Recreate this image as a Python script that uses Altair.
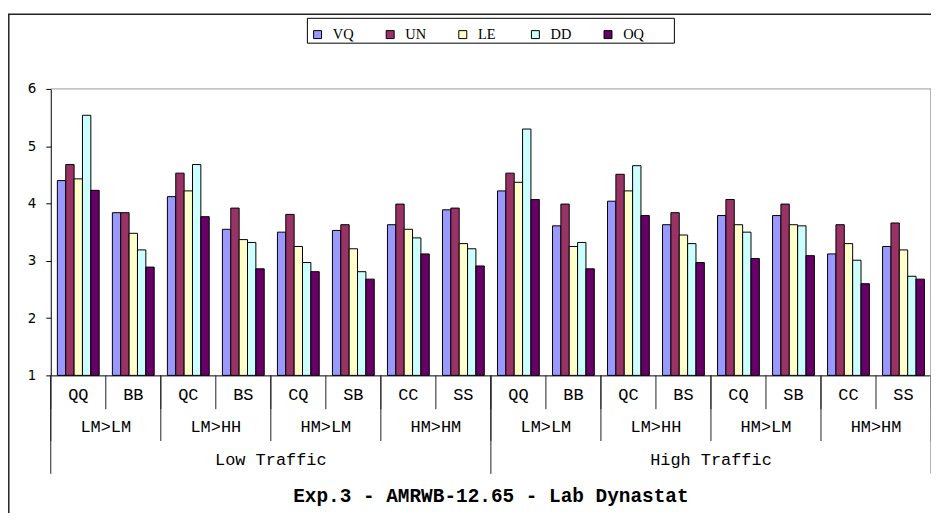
import altair as alt
import pandas as pd

# ---- data ----
codes = ["QQ", "BB", "QC", "BS", "CQ", "SB", "CC", "SS",
         "QQ", "BB", "QC", "BS", "CQ", "SB", "CC", "SS"]
scenarios = ["LM>LM", "LM>HH", "HM>LM", "HM>HM",
             "LM>LM", "LM>HH", "HM>LM", "HM>HM"]
traffic = ["Low Traffic", "High Traffic"]
series = ["VQ", "UN", "LE", "DD", "OQ"]
colors = ["#9999FF", "#993366", "#FFFFCC", "#CCFFFF", "#660066"]

VQ = [4.40, 3.84, 4.12, 3.55, 3.50, 3.53, 3.63, 3.89, 4.22, 3.61, 4.04, 3.63, 3.79, 3.79, 3.12, 3.25]
UN = [4.68, 3.84, 4.53, 3.92, 3.81, 3.63, 3.99, 3.92, 4.53, 3.99, 4.51, 3.84, 4.07, 3.99, 3.63, 3.66]
LE = [4.43, 3.48, 4.22, 3.37, 3.25, 3.21, 3.55, 3.30, 4.37, 3.25, 4.22, 3.45, 3.63, 3.63, 3.30, 3.19]
DD = [5.54, 3.19, 4.68, 3.32, 2.97, 2.81, 3.40, 3.21, 5.30, 3.32, 4.66, 3.30, 3.50, 3.61, 3.01, 2.73]
OQ = [4.23, 2.89, 3.77, 2.86, 2.81, 2.68, 3.12, 2.91, 4.07, 2.86, 3.79, 2.97, 3.04, 3.09, 2.60, 2.68]
y_ticks = [1, 2, 3, 4, 5, 6]
title_text = "Exp.3 - AMRWB-12.65 - Lab Dynastat"

W, H = 885, 288
grp_ids = [f"g{i:02d}" for i in range(len(codes))]

rows = []
for i, g in enumerate(grp_ids):
    for s, vals in zip(series, [VQ, UN, LE, DD, OQ]):
        rows.append({"grp": g, "series": s, "value": vals[i]})
df = pd.DataFrame(rows)

bars = alt.Chart(df).mark_bar(stroke="black", strokeWidth=1).encode(
    x=alt.X("grp:N", sort=grp_ids,
            scale=alt.Scale(paddingInner=0.24, paddingOuter=0.12),
            axis=alt.Axis(labels=False, ticks=False, title=None,
                          domainColor="black", domainWidth=1)),
    xOffset=alt.XOffset("series:N", sort=series,
                        scale=alt.Scale(paddingInner=0, paddingOuter=0)),
    y=alt.Y("value:Q", scale=alt.Scale(domain=[1, 6], nice=False, zero=False),
            axis=alt.Axis(values=y_ticks, title=None, grid=False, tickSize=5,
                          tickColor="black", domainColor="black",
                          labelFont="DejaVu Sans", labelFontSize=13.5,
                          labelColor="black", labelPadding=10)),
    y2=alt.datum(1),
    color=alt.Color("series:N", sort=series,
                    scale=alt.Scale(domain=series, range=colors),
                    legend=alt.Legend(title=None, orient="none", legendX=261, legendY=-62,
                                      direction="horizontal", columns=5, gridAlign="all",
                                      symbolType="square", symbolSize=64,
                                      symbolStrokeColor="black", symbolStrokeWidth=1,
                                      symbolOpacity=1,
                                      labelFont="Liberation Serif", labelFontSize=14.5,
                                      labelFontWeight="normal",
                                      labelColor="black", labelOffset=8,
                                      columnPadding=29, padding=0)),
)

xq = alt.Scale(domain=[0, len(codes)], nice=False, zero=False)

# category labels (three levels)
lvl1 = pd.DataFrame({"pos": [i + 0.5 for i in range(len(codes))], "label": codes})
lvl2 = pd.DataFrame({"pos": [2 * k + 1 for k in range(len(scenarios))], "label": scenarios})
lvl3 = pd.DataFrame({"pos": [4, 12], "label": traffic})

def label_layer(d, ypix):
    return alt.Chart(d).mark_text(font="Liberation Mono", fontSize=17, color="black",
                                  baseline="middle", align="center").encode(
        x=alt.X("pos:Q", scale=xq, axis=None),
        y=alt.value(ypix),
        text="label:N")

def sep_layer(positions, y2pix, color="#222222"):
    return alt.Chart(pd.DataFrame({"pos": positions})).mark_rule(color=color, strokeWidth=1).encode(
        x=alt.X("pos:Q", scale=xq, axis=None),
        y=alt.value(H), y2=alt.value(y2pix))

sep1 = sep_layer(list(range(0, 17)), H + 34)
sep2 = sep_layer(list(range(0, 17, 2)), H + 66)
sep3 = sep_layer([0, 8], H + 99)

one = pd.DataFrame({"k": [0]})
right_border = alt.Chart(one).mark_rule(color="#999999", strokeWidth=1.5).encode(
    x=alt.value(W), y=alt.value(0), y2=alt.value(H + 99))
top_border = alt.Chart(one).mark_rule(color="#999999", strokeWidth=1).encode(
    x=alt.value(0), x2=alt.value(W), y=alt.value(0))
frame_top = alt.Chart(one).mark_rule(color="#222222", strokeWidth=1.5).encode(
    x=alt.value(-43), x2=alt.value(W + 60), y=alt.value(-75))
frame_left = alt.Chart(one).mark_rule(color="#222222", strokeWidth=1.5).encode(
    x=alt.value(-42.2), y=alt.value(-75), y2=alt.value(H + 200))
legend_box = alt.Chart(one).mark_rect(fill="white", stroke="black", strokeWidth=1).encode(
    x=alt.value(258), x2=alt.value(627), y=alt.value(-71), y2=alt.value(-46))
title = alt.Chart(pd.DataFrame({"t": [title_text]})).mark_text(
    font="Liberation Mono", fontSize=19.5, fontWeight="bold", color="black",
    baseline="middle", align="center").encode(
    x=alt.value(W / 2), y=alt.value(409), text="t:N")

chart = alt.layer(
    frame_top, frame_left, legend_box, top_border,
    bars, sep1, sep2, sep3, right_border,
    label_layer(lvl1, H + 20), label_layer(lvl2, H + 52), label_layer(lvl3, H + 85),
    title,
).resolve_scale(x="independent").properties(
    width=W, height=H,
    padding={"left": 43, "top": 80, "right": 0, "bottom": 137},
    autosize=alt.AutoSizeParams(type="none"),
    background="white",
).configure_view(stroke=None)

chart.save("out.html", embed_options={"renderer": "svg", "actions": False})
